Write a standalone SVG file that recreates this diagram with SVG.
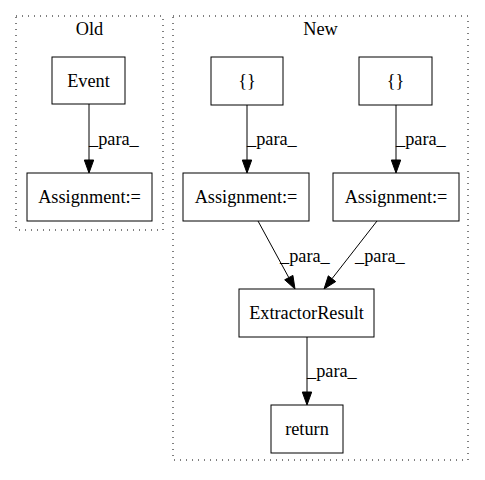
<svg xmlns="http://www.w3.org/2000/svg" width="485" height="480" viewBox="0 0 485 480">
<style>
text{font-family:"Liberation Serif","Times New Roman",serif;font-size:18.3px;fill:#000}
.c{text-anchor:middle}
.n{fill:#fff;stroke:#000;stroke-width:1}
.cl{fill:none;stroke:#000;stroke-width:1;stroke-dasharray:1,5}
.e{fill:none;stroke:#000;stroke-width:1}
.h{fill:#000;stroke:#000}
</style>
<rect width="485" height="480" fill="#fff"/>
<g id="cluster_old">
<rect class="cl" x="16" y="16" width="147" height="214"/>
<text class="c" x="89.5" y="35">Old</text>
</g>
<g id="cluster_new">
<rect class="cl" x="173" y="16" width="295" height="444"/>
<text class="c" x="320.5" y="35">New</text>
</g>
<g id="edges">
<path class="e" d="M89,104 L89,160"/>
<polygon class="h" points="84.3,160 89,173 93.7,160"/>
<text x="89" y="145">_para_</text>
<path class="e" d="M247,105 L247,160"/>
<polygon class="h" points="242.3,160 247,173 251.7,160"/>
<text x="247" y="145">_para_</text>
<path class="e" d="M396,105 L396,160"/>
<polygon class="h" points="391.3,160 396,173 400.7,160"/>
<text x="396" y="145">_para_</text>
<path class="e" d="M258,221 L288.8,277.6"/>
<polygon class="h" points="284.7,279.8 295,289 292.9,275.4"/>
<text x="280" y="262">_para_</text>
<path class="e" d="M377,221 L332,278.7"/>
<polygon class="h" points="335.7,281.6 324,289 328.3,275.8"/>
<text x="355" y="262">_para_</text>
<path class="e" d="M307,337 L307,392"/>
<polygon class="h" points="302.3,392 307,405 311.7,392"/>
<text x="307" y="377">_para_</text>
</g>
<g id="node_event">
<rect class="n" x="52" y="57" width="73" height="47"/>
<text class="c" x="88.5" y="86.5">Event</text>
</g>
<g id="node_assign_old">
<rect class="n" x="27" y="173" width="125" height="48"/>
<text class="c" x="89.5" y="203">Assignment:=</text>
</g>
<g id="node_brace1">
<rect class="n" x="211" y="57" width="72" height="48"/>
<text class="c" x="247" y="87">{}</text>
</g>
<g id="node_brace2">
<rect class="n" x="359" y="57" width="73" height="48"/>
<text class="c" x="395.5" y="87">{}</text>
</g>
<g id="node_assign1">
<rect class="n" x="183" y="173" width="126" height="48"/>
<text class="c" x="246" y="203">Assignment:=</text>
</g>
<g id="node_assign2">
<rect class="n" x="333" y="173" width="126" height="48"/>
<text class="c" x="396" y="203">Assignment:=</text>
</g>
<g id="node_extractor">
<rect class="n" x="239" y="289" width="135" height="48"/>
<text class="c" x="306.5" y="319">ExtractorResult</text>
</g>
<g id="node_return">
<rect class="n" x="271" y="405" width="72" height="48"/>
<text class="c" x="307" y="435">return</text>
</g>
</svg>
